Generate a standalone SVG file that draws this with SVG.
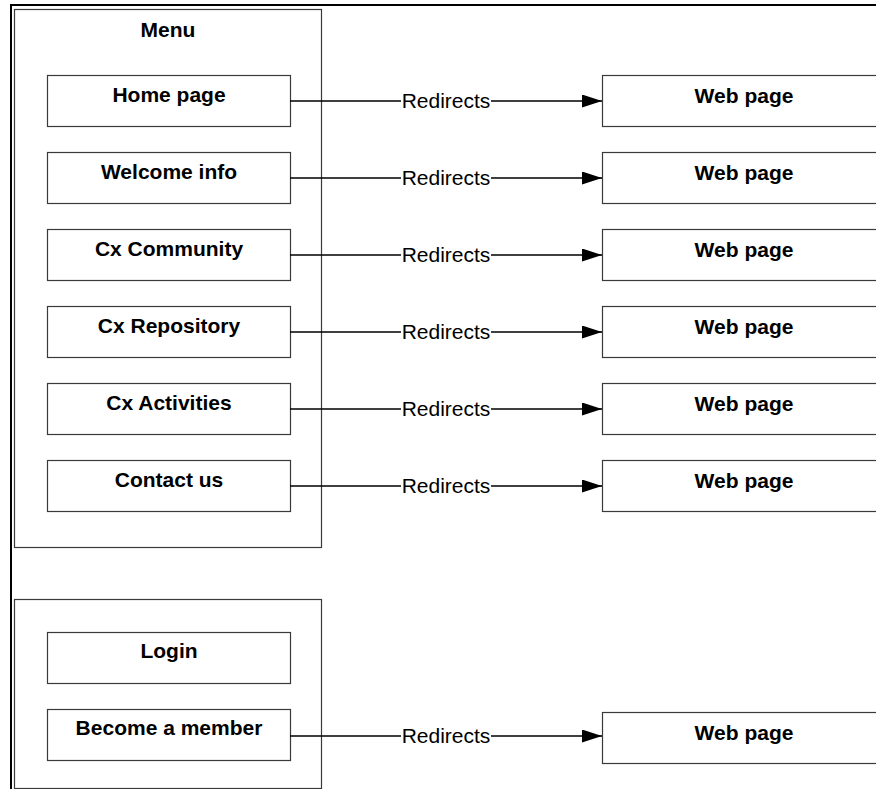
<svg xmlns="http://www.w3.org/2000/svg" width="876" height="789" viewBox="0 0 876 789">
<defs>
<style>
.box{fill:#fff;stroke:#3a3a3a;stroke-width:1.2}
.lbl{font-family:"Liberation Sans",Arial,sans-serif;font-size:21px;font-weight:bold;fill:#000;text-anchor:middle}
.rl{font-family:"Liberation Sans",Arial,sans-serif;font-size:21px;fill:#000;text-anchor:middle}
.con{stroke:#000;stroke-width:1.6;fill:none}
</style>
<marker id="arr" markerUnits="userSpaceOnUse" markerWidth="21" markerHeight="14" refX="20" refY="6.5" orient="auto">
<path d="M0,0 L20,6.5 L0,13 Z" fill="#000"/>
</marker>
</defs>
<rect width="876" height="789" fill="#fff"/>
<path d="M11,789 V5 H876" fill="none" stroke="#000" stroke-width="2"/>
<g id="menu">
<rect class="box" x="14.5" y="9.5" width="307" height="538"/>
<text class="lbl" x="168" y="37">Menu</text>
</g>
<g id="group2">
<rect class="box" x="14.5" y="599.5" width="307" height="189"/>
</g>
<g id="home"><rect class="box" x="47.5" y="75.5" width="243" height="51"/><text class="lbl" x="169" y="102">Home page</text></g>
<g id="welcome"><rect class="box" x="47.5" y="152.5" width="243" height="51"/><text class="lbl" x="169" y="179">Welcome info</text></g>
<g id="community"><rect class="box" x="47.5" y="229.5" width="243" height="51"/><text class="lbl" x="169" y="256">Cx Community</text></g>
<g id="repository"><rect class="box" x="47.5" y="306.5" width="243" height="51"/><text class="lbl" x="169" y="333">Cx Repository</text></g>
<g id="activities"><rect class="box" x="47.5" y="383.5" width="243" height="51"/><text class="lbl" x="169" y="410">Cx Activities</text></g>
<g id="contact"><rect class="box" x="47.5" y="460.5" width="243" height="51"/><text class="lbl" x="169" y="487">Contact us</text></g>
<g id="login"><rect class="box" x="47.5" y="632.5" width="243" height="51"/><text class="lbl" x="169" y="658">Login</text></g>
<g id="member"><rect class="box" x="47.5" y="709.5" width="243" height="51"/><text class="lbl" x="169" y="735">Become a member</text></g>
<g id="web1"><rect class="box" x="602.5" y="75.5" width="290" height="51"/><text class="lbl" x="744" y="103">Web page</text></g>
<g id="web2"><rect class="box" x="602.5" y="152.5" width="290" height="51"/><text class="lbl" x="744" y="180">Web page</text></g>
<g id="web3"><rect class="box" x="602.5" y="229.5" width="290" height="51"/><text class="lbl" x="744" y="257">Web page</text></g>
<g id="web4"><rect class="box" x="602.5" y="306.5" width="290" height="51"/><text class="lbl" x="744" y="334">Web page</text></g>
<g id="web5"><rect class="box" x="602.5" y="383.5" width="290" height="51"/><text class="lbl" x="744" y="411">Web page</text></g>
<g id="web6"><rect class="box" x="602.5" y="460.5" width="290" height="51"/><text class="lbl" x="744" y="488">Web page</text></g>
<g id="web7"><rect class="box" x="602.5" y="712.5" width="290" height="51"/><text class="lbl" x="744" y="740">Web page</text></g>
<g id="connectors">
<path class="con" d="M290,101 H401 M491,101 H602" marker-end="url(#arr)"/>
<path class="con" d="M290,178 H401 M491,178 H602" marker-end="url(#arr)"/>
<path class="con" d="M290,255 H401 M491,255 H602" marker-end="url(#arr)"/>
<path class="con" d="M290,332 H401 M491,332 H602" marker-end="url(#arr)"/>
<path class="con" d="M290,409 H401 M491,409 H602" marker-end="url(#arr)"/>
<path class="con" d="M290,486 H401 M491,486 H602" marker-end="url(#arr)"/>
<path class="con" d="M290,736 H401 M491,736 H602" marker-end="url(#arr)"/>
<text class="rl" x="446" y="108">Redirects</text>
<text class="rl" x="446" y="185">Redirects</text>
<text class="rl" x="446" y="262">Redirects</text>
<text class="rl" x="446" y="339">Redirects</text>
<text class="rl" x="446" y="416">Redirects</text>
<text class="rl" x="446" y="493">Redirects</text>
<text class="rl" x="446" y="743">Redirects</text>
</g>
</svg>
